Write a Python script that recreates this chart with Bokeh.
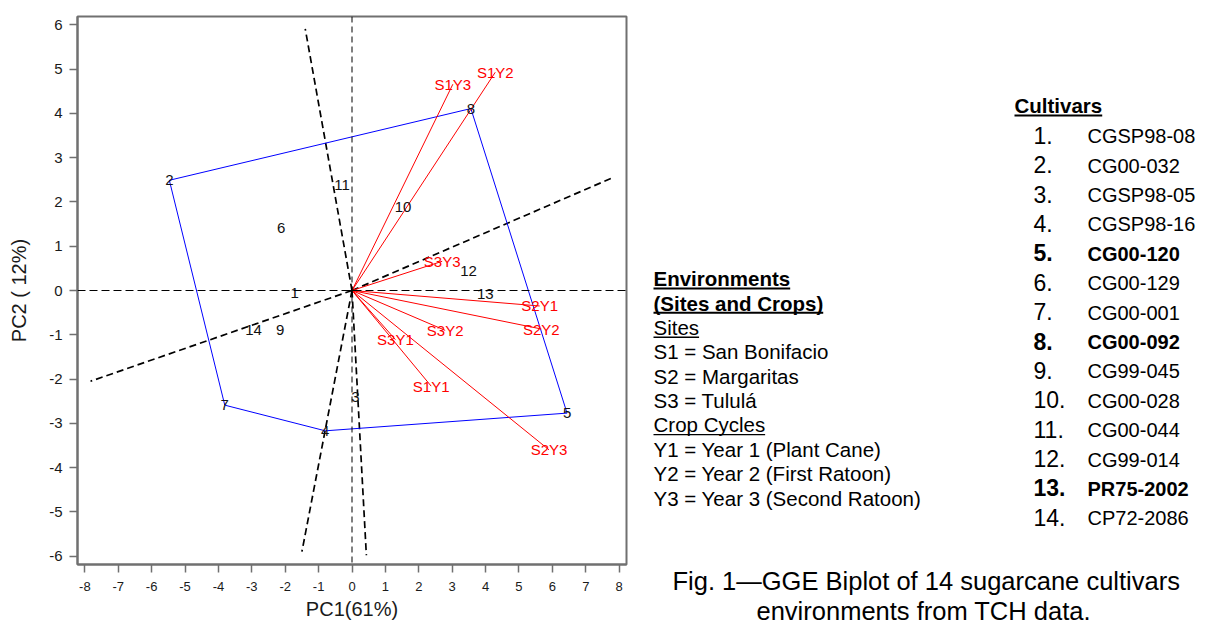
from bokeh.plotting import figure
from bokeh.models import Range1d, Span, FixedTicker, Title
from bokeh.layouts import row
from bokeh.embed import file_html
from bokeh.resources import INLINE
from bokeh.core.properties import value

FONT = "Liberation Sans"

# ---------------- data ----------------
cultivar_ids = ["1", "2", "3", "4", "5", "6", "7", "8", "9", "10", "11", "12", "13", "14"]
cultivar_pc1 = [-1.72, -5.47, 0.10, -0.80, 6.44, -2.12, -3.81, 3.56, -2.15, 1.53, -0.30, 3.49, 3.99, -2.95]
cultivar_pc2 = [-0.05, 2.49, -2.40, -3.17, -2.77, 1.42, -2.59, 4.11, -0.90, 1.89, 2.38, 0.44, -0.09, -0.90]
cultivar_names = ["CGSP98-08", "CG00-032", "CGSP98-05", "CGSP98-16", "CG00-120", "CG00-129",
                  "CG00-001", "CG00-092", "CG99-045", "CG00-028", "CG00-044", "CG99-014",
                  "PR75-2002", "CP72-2086"]
bold_cultivars = ["5", "8", "13"]

env_names = ["S1Y1", "S1Y2", "S1Y3", "S2Y1", "S2Y2", "S2Y3", "S3Y1", "S3Y2", "S3Y3"]
env_pc1 = [2.37, 4.29, 3.02, 5.62, 5.67, 5.90, 1.30, 2.79, 2.70]
env_pc2 = [-2.16, 4.93, 4.66, -0.35, -0.87, -3.60, -1.11, -0.90, 0.66]

hull_order = ["2", "8", "5", "4", "7"]

sector_pc1 = [7.81, -7.83, -1.40, -1.50, 0.43]
sector_pc2 = [2.55, -2.05, 5.91, -5.90, -5.98]

x_ticks = list(range(-8, 9))
y_ticks = list(range(-6, 7))
x_label = "PC1(61%)"
y_label = "PC2 ( 12%)"

env_legend = ["Environments", "(Sites and Crops)", "Sites", "S1 = San Bonifacio", "S2 = Margaritas",
              "S3 = Tululá", "Crop Cycles", "Y1 = Year 1 (Plant Cane)", "Y2 = Year 2 (First Ratoon)",
              "Y3 = Year 3 (Second Ratoon)"]
env_legend_bold = [True, True] + [False] * 8
env_legend_underline = [True, True, True, False, False, False, True, False, False, False]
cultivar_header = "Cultivars"
caption_lines = ["Fig. 1\u2014GGE Biplot of 14 sugarcane cultivars", "environments from TCH data."]

# ---------------- layout constants ----------------
H = 624
TOP = 16
BOTTOM = 59
P_W = 638
Q_W = 562

# ---------------- main biplot ----------------
p = figure(width=P_W, height=H, x_range=Range1d(-8.22, 8.22), y_range=Range1d(-6.19, 6.19),
           output_backend="svg", toolbar_location=None,
           min_border_left=77, min_border_right=12, min_border_top=TOP, min_border_bottom=BOTTOM)
p.grid.visible = False
p.outline_line_color = "#707070"
p.outline_line_width = 2

p.xaxis.ticker = FixedTicker(ticks=x_ticks)
p.yaxis.ticker = FixedTicker(ticks=y_ticks)
p.xaxis.major_label_overrides = {t: str(t) for t in x_ticks}
p.yaxis.major_label_overrides = {t: str(t) for t in y_ticks}
p.xaxis.axis_label = x_label
p.yaxis.axis_label = y_label
for ax in (p.xaxis[0], p.yaxis[0]):
    ax.axis_line_color = "#707070"
    ax.axis_line_width = 2
    ax.major_tick_line_color = "#707070"
    ax.major_tick_line_width = 1.5
    ax.major_tick_in = 0
    ax.major_tick_out = 8
    ax.minor_tick_line_color = None
    ax.major_label_text_font = FONT
    ax.major_label_text_color = "#1a1a1a"
    ax.axis_label_text_font = FONT
    ax.axis_label_text_font_style = "normal"
    ax.axis_label_text_font_size = "20px"
    ax.axis_label_text_color = "#1a1a1a"
p.xaxis.major_label_text_font_size = "13px"
p.yaxis.major_label_text_font_size = "15px"
p.xaxis.major_label_standoff = 9
p.yaxis.major_label_standoff = 7
p.xaxis.axis_label_standoff = 4
p.yaxis.axis_label_standoff = 16

# axes through origin
p.add_layout(Span(location=0, dimension="width", line_color="black", line_width=1, line_dash="8 4"))
p.add_layout(Span(location=0, dimension="height", line_color="black", line_width=1, line_dash="6 4"))

# sector rays
p.segment(x0=[0] * len(sector_pc1), y0=[0] * len(sector_pc1), x1=sector_pc1, y1=sector_pc2,
          line_color="black", line_width=1.7, line_dash="7 4")

# polygon (convex hull)
hx = [cultivar_pc1[cultivar_ids.index(h)] for h in hull_order]
hy = [cultivar_pc2[cultivar_ids.index(h)] for h in hull_order]
p.line(hx + hx[:1], hy + hy[:1], line_color="blue", line_width=1)

# environment vectors
p.segment(x0=[0] * len(env_pc1), y0=[0] * len(env_pc1), x1=env_pc1, y1=env_pc2,
          line_color="red", line_width=1)
p.text(x=env_pc1, y=env_pc2, text=env_names, text_align="center", text_baseline="middle",
       text_font=value(FONT), text_font_size="15px", text_color="red")

# cultivar labels
p.text(x=cultivar_pc1, y=cultivar_pc2, text=cultivar_ids, text_align="center", text_baseline="middle",
       text_font=value(FONT), text_font_size="15px", text_color="#111111")

# origin marker
p.scatter(x=[0], y=[0], marker="cross", size=8, line_color="black", line_width=1.2)

# ---------------- legend / caption panel (page-pixel coordinates) ----------------
q = figure(width=Q_W, height=H, x_range=Range1d(P_W, P_W + Q_W), y_range=Range1d(H - BOTTOM, TOP),
           output_backend="svg", toolbar_location=None, x_axis_location=None, y_axis_location=None,
           min_border_left=0, min_border_right=0, min_border_top=TOP, min_border_bottom=BOTTOM)
q.grid.visible = False
q.outline_line_color = None

BOLD_W = {"E": 667, "n": 611, "v": 556, "i": 278, "r": 389, "o": 611, "m": 889, "e": 556, "t": 333,
          "s": 556, "(": 333, "S": 667, "a": 556, "d": 611, "C": 722, "p": 611, ")": 333, " ": 278,
          "u": 611, "l": 278}
REG_W = {"S": 667, "i": 222, "t": 278, "e": 556, "s": 500, "C": 722, "r": 333, "o": 556, "p": 556,
         " ": 278, "y": 500, "c": 500, "l": 222}


def text_width(s, size, bold):
    table = BOLD_W if bold else REG_W
    return sum(table.get(ch, 556) for ch in s) * size / 1000.0


MID = 0.35  # distance from baseline to text middle, in em

ENV_X = 653
ENV_Y0 = 286
ENV_DY = 24.4
ENV_SIZE = 20.5
env_base = [ENV_Y0 + i * ENV_DY for i in range(len(env_legend))]
for bold in (True, False):
    idx = [i for i in range(len(env_legend)) if env_legend_bold[i] == bold]
    q.text(x=[ENV_X] * len(idx), y=[env_base[i] - MID * ENV_SIZE for i in idx],
           text=[env_legend[i] for i in idx],
           text_align="left", text_baseline="middle", text_font=value(FONT),
           text_font_size=f"{ENV_SIZE}px", text_font_style="bold" if bold else "normal",
           text_color="black")
for i, s in enumerate(env_legend):
    if env_legend_underline[i]:
        w = text_width(s, ENV_SIZE, env_legend_bold[i])
        uy = env_base[i] + 2.5
        q.segment(x0=[ENV_X], y0=[uy], x1=[ENV_X + w], y1=[uy], line_color="black",
                  line_width=2 if env_legend_bold[i] else 1.4)

# cultivars list
CUL_X = 1014
CUL_HEAD_BASE = 112.7
HEAD_SIZE = 20.5
q.text(x=[CUL_X], y=[CUL_HEAD_BASE - MID * HEAD_SIZE], text=[cultivar_header], text_align="left",
       text_baseline="middle", text_font=value(FONT), text_font_size=f"{HEAD_SIZE}px",
       text_font_style="bold", text_color="black")
hw = text_width(cultivar_header, HEAD_SIZE, True)
q.segment(x0=[CUL_X], y0=[CUL_HEAD_BASE + 2.5], x1=[CUL_X + hw], y1=[CUL_HEAD_BASE + 2.5],
          line_color="black", line_width=2)

NUM_X = 1033
NAME_X = 1087
ROW_C0 = 136
ROW_DY = 29.45
NUM_SIZE = 23
NAME_SIZE = 20
row_base = [ROW_C0 + i * ROW_DY + MID * NAME_SIZE for i in range(len(cultivar_ids))]
for bold in (True, False):
    idx = [i for i in range(len(cultivar_ids)) if (cultivar_ids[i] in bold_cultivars) == bold]
    style = "bold" if bold else "normal"
    q.text(x=[NUM_X] * len(idx), y=[row_base[i] - MID * NUM_SIZE for i in idx],
           text=[cultivar_ids[i] + "." for i in idx],
           text_align="left", text_baseline="middle", text_font=value(FONT),
           text_font_size=f"{NUM_SIZE}px", text_font_style=style, text_color="black")
    q.text(x=[NAME_X] * len(idx), y=[row_base[i] - MID * NAME_SIZE for i in idx],
           text=[cultivar_names[i] for i in idx],
           text_align="left", text_baseline="middle", text_font=value(FONT),
           text_font_size=f"{NAME_SIZE}px", text_font_style=style, text_color="black")

# caption: two titles stacked below the (invisible) frame
for off, line in zip([34, 118], caption_lines):
    q.add_layout(Title(text=line, align="left", offset=off, standoff=0, text_font=FONT,
                       text_font_size="25.5px", text_font_style="normal", text_color="black"), "below")

layout = row(p, q)
open("out.html", "w").write(file_html(layout, INLINE))
